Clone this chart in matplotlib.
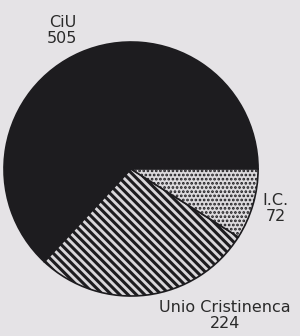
import matplotlib.pyplot as plt

# vote counts
parties = ['CiU', 'Unio Cristinenca', 'I.C.']
votes = [505, 224, 72]

colors = ['#1d1c1f', '#d9d7da', '#dcdadd']
hatches = ['', '\\\\\\\\', '....']
hatch_widths = [1.0, 2.2, 1.3]

plt.rcParams['hatch.color'] = '#2a2a30'

fig = plt.figure(figsize=(3.0, 3.36), dpi=100, facecolor='#e5e3e6')
ax = fig.add_axes([0.0133, 0.119, 0.847, 0.756])
ax.set_facecolor('#e5e3e6')

wedges, _ = ax.pie(votes, colors=colors, startangle=0, counterclock=True,
                   radius=1, wedgeprops=dict(edgecolor='#1d1c1f', linewidth=1.2))
for w, h, lw in zip(wedges, hatches, hatch_widths):
    w.set_hatch(h)
    if hasattr(w, 'set_hatch_linewidth'):
        w.set_hatch_linewidth(lw)
    else:
        w._hatch_linewidth = lw

ax.set_xlim(-1, 1)
ax.set_ylim(-1, 1)
ax.set_aspect('auto')
ax.axis('off')

# labels
label_pos = [(-0.54, 1.09), (0.74, -1.155), (1.14, -0.31)]
for name, v, (x, y) in zip(parties, votes, label_pos):
    ax.text(x, y, f"{name}\n{v}", ha='center', va='center', fontsize=11.5,
            color='#2a2a2a', linespacing=1.05, clip_on=False)

fig.savefig('out.png', dpi=100, facecolor=fig.get_facecolor())
